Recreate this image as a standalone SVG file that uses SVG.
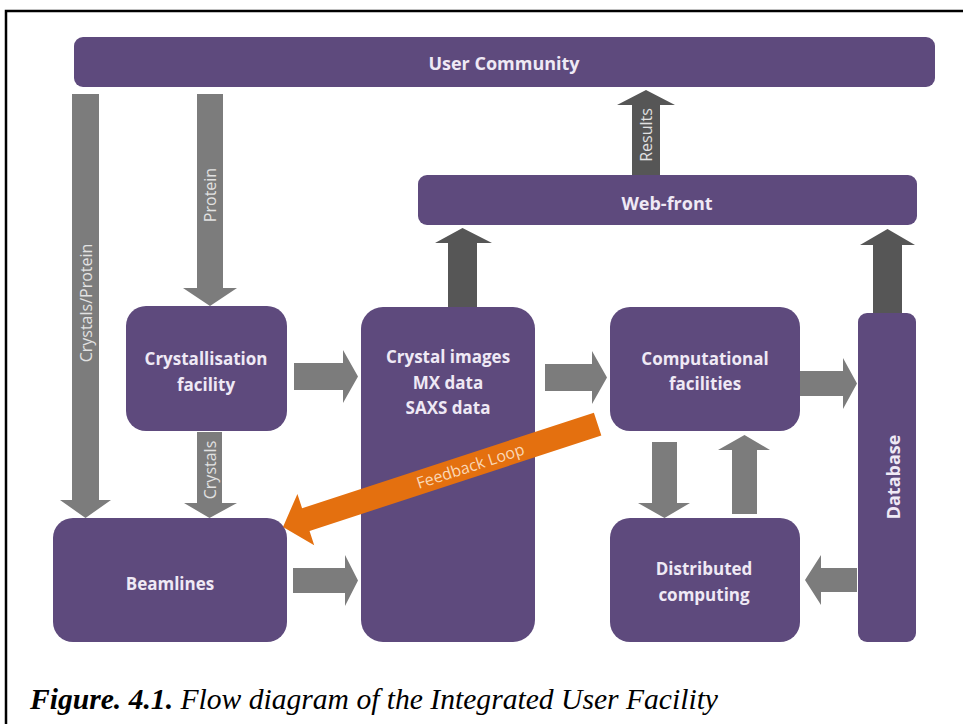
<svg xmlns="http://www.w3.org/2000/svg" width="963" height="724" viewBox="0 0 963 724">
<style>
.box{fill:#5E4A7D;}
.lbl{font-family:"Open Sans","Liberation Sans",sans-serif;font-weight:bold;fill:#EFE9F5;text-anchor:middle;}
.big{font-size:17px;}
.sm{font-size:18px;}
.arr{fill:#7C7C7C;}
.dark{fill:#565656;}
.al{font-family:"Open Sans","Liberation Sans",sans-serif;font-size:16px;fill:#E2E2E2;text-anchor:middle;dominant-baseline:central;}
.fb{fill:#E4700F;}
.fbt{font-family:"Open Sans","Liberation Sans",sans-serif;font-size:16px;fill:#FAD7B5;text-anchor:middle;dominant-baseline:central;}
.cap{font-family:"Liberation Serif","Times New Roman",serif;font-size:29.6px;font-style:italic;fill:#000;}
</style>
<rect width="963" height="724" fill="#FFFFFF"/>
<path d="M6,724 V11 H963" fill="none" stroke="#000" stroke-width="2.5"/>

<g id="connectors">
  <g id="a-crystals-protein">
    <polygon class="arr" points="72,94 99,94 99,500 111,500 85.5,518 60,500 72,500"/>
    <text class="al" transform="translate(85.5,303) rotate(-90)">Crystals/Protein</text>
  </g>
  <g id="a-protein">
    <polygon class="arr" points="197,94 223,94 223,288 237,288 210,306 183,288 197,288"/>
    <text class="al" transform="translate(210,195) rotate(-90)">Protein</text>
  </g>
  <g id="a-crystals">
    <polygon class="arr" points="197,432 222,432 222,503 237,503 209.5,518 184,503 197,503"/>
    <text class="al" transform="translate(209.5,470) rotate(-90)">Crystals</text>
  </g>
  <polygon id="a-cryst-img" class="arr" points="294,363 343,363 343,350 358,376.5 343,403 343,390 294,390"/>
  <polygon id="a-img-comp" class="arr" points="545,364 592,364 592,351 607,377.5 592,404 592,391 545,391"/>
  <polygon id="a-comp-db" class="arr" points="800,371 843,371 843,358 857,383.5 843,409 843,396 800,396"/>
  <polygon id="a-beam-img" class="arr" points="293,568 345,568 345,555 358,580.5 345,606 345,593 293,593"/>
  <polygon id="a-db-dist" class="arr" points="857,568 821,568 821,555 805,580 821,605 821,592 857,592"/>
  <polygon id="a-img-web" class="dark" points="448,307 448,243 435,243 462.5,228 492,243 477,243 477,307"/>
  <polygon id="a-db-web" class="dark" points="873,313 873,245 860,245 887.5,229 915,245 902,245 902,313"/>
  <g id="a-results">
    <polygon class="dark" points="632,175 632,105 617,105 646,90 675,105 660,105 660,175"/>
    <text class="al" transform="translate(646,135) rotate(-90)">Results</text>
  </g>
  <polygon id="a-dist-comp" class="arr" points="732,514 732,450 718,450 744.5,435 770,450 757,450 757,514"/>
  <polygon id="a-comp-dist" class="arr" points="652,442 677,442 677,503 690,503 664.5,518 638,503 652,503"/>
</g>

<g id="user-community">
  <rect class="box" x="74" y="37" width="861" height="50" rx="9"/>
  <text class="lbl sm" x="504" y="70">User Community</text>
</g>
<g id="web-front">
  <rect class="box" x="418" y="175" width="499" height="50" rx="9"/>
  <text class="lbl sm" x="667" y="210">Web-front</text>
</g>
<g id="crystallisation-facility">
  <rect class="box" x="126" y="306" width="161" height="125" rx="20"/>
  <text class="lbl big" x="206" y="365">Crystallisation</text>
  <text class="lbl big" x="206" y="391">facility</text>
</g>
<g id="crystal-images">
  <rect class="box" x="361" y="307" width="174" height="335" rx="22"/>
  <text class="lbl big" x="448" y="363">Crystal images</text>
  <text class="lbl big" x="448" y="389">MX data</text>
  <text class="lbl big" x="448" y="414">SAXS data</text>
</g>
<g id="computational-facilities">
  <rect class="box" x="610" y="307" width="190" height="124" rx="20"/>
  <text class="lbl big" x="705" y="365">Computational</text>
  <text class="lbl big" x="705" y="390">facilities</text>
</g>
<g id="database">
  <rect class="box" x="858" y="313" width="58" height="329" rx="9"/>
  <text class="lbl sm" transform="translate(893,477) rotate(-90)" dominant-baseline="central">Database</text>
</g>
<g id="beamlines">
  <rect class="box" x="53" y="518" width="234" height="124" rx="20"/>
  <text class="lbl big" x="170" y="590">Beamlines</text>
</g>
<g id="distributed-computing">
  <rect class="box" x="610" y="518" width="190" height="124" rx="20"/>
  <text class="lbl big" x="704" y="575">Distributed</text>
  <text class="lbl big" x="704" y="601">computing</text>
</g>

<g id="feedback-loop" transform="translate(283,527) rotate(-18.1)">
  <polygon class="fb" points="0,0 24,-27 24,-12 331,-12 331,12 24,12 24,27"/>
  <text class="fbt" x="197" y="0">Feedback Loop</text>
</g>

<text class="cap" x="30" y="709"><tspan font-weight="bold">Figure. 4.1.</tspan> Flow diagram of the Integrated User Facility</text>
</svg>
